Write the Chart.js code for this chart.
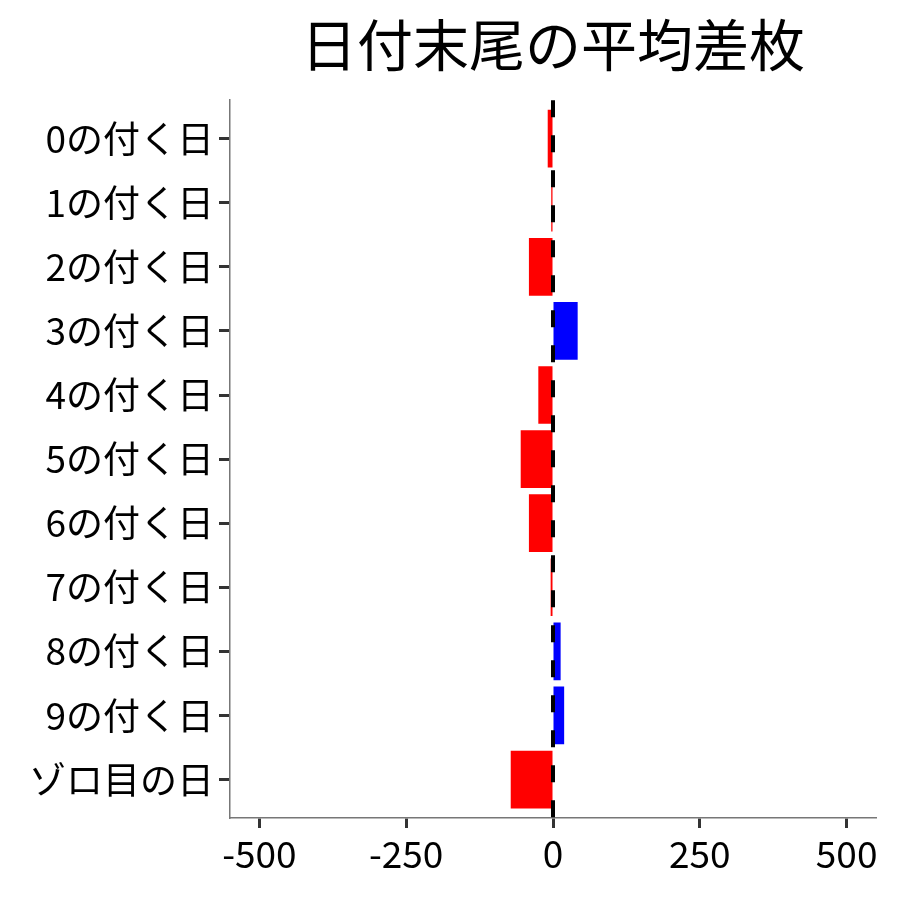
<!DOCTYPE html>
<html>
<head>
<meta charset="utf-8">
<script src="https://cdn.jsdelivr.net/npm/chart.js@4"></script>
<style>
html,body{margin:0;padding:0;background:#fff;}
#wrap{width:900px;height:900px;}
</style>
</head>
<body>
<div id="wrap"><canvas id="c" width="900" height="900"></canvas></div>
<script>
const categories = ["0の付く日","1の付く日","2の付く日","3の付く日","4の付く日","5の付く日","6の付く日","7の付く日","8の付く日","9の付く日","ゾロ目の日"];
const values = [-9, -3, -41, 42, -25, -55, -41, -4, 13, 19, -72];
const xTicks = [-500, -250, 0, 250, 500];
const titleText = "日付末尾の平均差枚";

const FONT = "'Noto Sans CJK JP', 'Noto Sans', sans-serif";

const zeroLine = {
  id: 'zeroLine',
  afterDatasetsDraw(chart) {
    const {ctx, chartArea, scales} = chart;
    const x = scales.x.getPixelForValue(0);
    ctx.save();
    ctx.strokeStyle = '#000';
    ctx.lineWidth = 4;
    ctx.setLineDash([17, 18]);
    ctx.beginPath();
    ctx.moveTo(x, chartArea.top);
    ctx.lineTo(x, chartArea.bottom);
    ctx.stroke();
    ctx.restore();
  }
};

new Chart(document.getElementById('c'), {
  type: 'bar',
  data: {
    datasets: [{
      data: values.map((v, i) => ({x: v, y: i})),
      backgroundColor: values.map(v => v > 0 ? '#0000FF' : '#FF0000'),
      borderWidth: 0,
      barPercentage: 0.9,
      categoryPercentage: 1.0
    }]
  },
  options: {
    indexAxis: 'y',
    responsive: false,
    animation: false,
    layout: { padding: { left: 0, right: 24, top: 0, bottom: 0 } },
    plugins: {
      legend: { display: false },
      tooltip: { enabled: false },
      title: {
        display: true,
        fullSize: false,
        text: titleText,
        color: '#000',
        font: { family: FONT, size: 56, weight: 'normal' },
        padding: { top: 11, bottom: 22 }
      }
    },
    scales: {
      x: {
        type: 'linear',
        min: -550,
        max: 550,
        offset: false,
        afterBuildTicks: (s) => { s.ticks = xTicks.map(v => ({value: v})); },
        afterFit: (s) => { s.height = 82; },
        grid: { offset: false, drawOnChartArea: false, drawTicks: true, tickLength: 10, tickColor: '#333', tickWidth: 3 },
        border: { display: true, color: '#777', width: 1.5 },
        ticks: { color: '#000', font: { family: FONT, size: 37 }, padding: 4, maxRotation: 0, autoSkip: false }
      },
      y: {
        type: 'linear',
        reverse: true,
        offset: false,
        min: -0.6,
        max: categories.length - 1 + 0.6,
        afterBuildTicks: (s) => { s.ticks = categories.map((_, i) => ({value: i})); },
        afterFit: (s) => { s.width = 230; },
        grid: { offset: false, drawOnChartArea: false, drawTicks: true, tickLength: 11, tickColor: '#333', tickWidth: 3 },
        border: { display: true, color: '#777', width: 1.5 },
        ticks: {
          color: '#000',
          font: { family: FONT, size: 37 },
          padding: 5,
          autoSkip: false,
          callback: (v) => categories[v] ?? ''
        }
      }
    }
  },
  plugins: [zeroLine]
});
</script>
</body>
</html>
